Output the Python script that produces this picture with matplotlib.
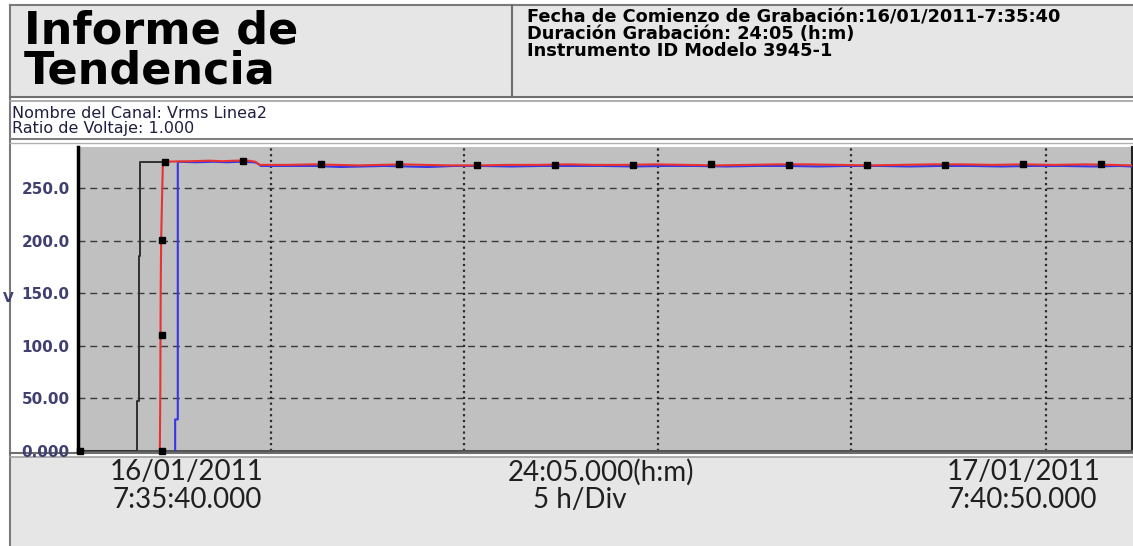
import matplotlib
matplotlib.use("Agg")
import matplotlib.pyplot as plt
from matplotlib.patches import Rectangle

# --- data (time in hours from start of recording, value in V) ---
black_t = [0.0, 1.35, 1.35, 1.39, 1.39, 1.42, 1.42, 1.95]
black_v = [0, 0, 48, 48, 185, 185, 275, 275]

red_t = [1.87, 1.88, 1.89, 1.90, 1.92, 1.94, 2.6, 3.0, 3.3, 3.6, 3.9, 4.05, 4.15,
         4.8, 5.4, 5.9, 6.4, 6.9, 7.4, 7.9, 8.5, 9.2, 9.8, 10.5, 11.2, 11.8,
         12.5, 13.2, 13.9, 14.6, 15.3, 16.0, 16.7, 17.4, 18.1, 18.8, 19.5,
         20.2, 20.9, 21.6, 22.3, 23.0, 23.6, 24.08]
red_v = [0, 55, 155, 200, 240, 275, 275.5, 276, 275.5, 276, 276, 275, 272,
         272, 272.5, 272, 271.5, 272, 272.5, 272, 271.5, 271.5, 272, 272, 272.5, 272,
         272, 272.5, 272, 271.5, 272, 272.5, 272.5, 272, 271.5, 272, 272.5,
         272.5, 272, 272.5, 272, 272.5, 272, 271.5]

blue_t = [2.22, 2.22, 2.28, 2.28, 2.7, 3.1, 3.4, 3.7, 4.0, 4.08, 4.18,
          4.8, 5.4, 6.0, 6.5, 7.0, 7.5, 8.0, 8.6, 9.2, 9.9, 10.6, 11.3, 12.0,
          12.7, 13.4, 14.1, 14.8, 15.5, 16.2, 16.9, 17.6, 18.3, 19.0, 19.7,
          20.4, 21.1, 21.8, 22.5, 23.2, 23.8, 24.08]
blue_v = [0, 30, 30, 275, 274.5, 275, 274.5, 275, 274.5, 274, 271,
          271, 271, 270, 270.5, 271, 270.5, 270, 271, 271, 270.5, 271, 271, 271,
          270.5, 271, 271, 270.5, 271, 271, 270.5, 271, 271, 270.5, 271,
          271, 270.5, 271, 271, 270.5, 271, 270.5]

mark_t = [0.05, 1.92, 1.92, 1.92, 1.99, 3.77, 5.55, 7.33, 9.12, 10.90, 12.68,
          14.46, 16.25, 18.03, 19.81, 21.59, 23.38]
mark_v = [0, 0, 110, 201, 275, 275.5, 272.5, 273, 271.5, 272, 272,
          272.5, 272, 271.5, 272, 272.5, 272.5]

y_ticks = [0, 50, 100, 150, 200, 250]
y_labels = ["0.000", "50.00", "100.0", "150.0", "200.0", "250.0"]
duration_h = 24.083

W, H = 1133, 546
fig = plt.figure(figsize=(W / 100, H / 100), dpi=100)
fig.patch.set_facecolor("white")

# background layer in pixel coordinates
bg = fig.add_axes([0, 0, 1, 1])
bg.set_xlim(0, W)
bg.set_ylim(H, 0)
bg.axis("off")

hdr_gray = "#e6e6e6"
bg.add_patch(Rectangle((10, 5), W - 10, 92, facecolor=hdr_gray, edgecolor="none"))
bg.add_patch(Rectangle((10, 457), W - 10, H - 457, facecolor=hdr_gray, edgecolor="none"))
bg.plot([10, W], [5, 5], color="#7a7a7a", lw=1.5)
bg.plot([10, 10], [5, H], color="#7a7a7a", lw=1.5)
bg.plot([512, 512], [5, 97], color="#6e6e6e", lw=1.5)
bg.plot([10, W], [97, 97], color="#6e6e6e", lw=1.5)
bg.plot([10, W], [101, 101], color="#a0a0a0", lw=1.2)
bg.plot([10, W], [139, 139], color="#808080", lw=1.5)
bg.plot([10, W], [143, 143], color="#b0b0b0", lw=1.0)
bg.plot([10, W], [453, 453], color="#6e6e6e", lw=1.5)
bg.plot([10, W], [457, 457], color="#a0a0a0", lw=1.2)

bg.text(24, 31, "Informe de", fontsize=32, fontweight="bold", family="DejaVu Sans",
        va="center", ha="left", color="black")
bg.text(24, 71, "Tendencia", fontsize=32, fontweight="bold", family="DejaVu Sans",
        va="center", ha="left", color="black")

hdr_lines = ["Fecha de Comienzo de Grabación:16/01/2011-7:35:40",
             "Duración Grabación: 24:05 (h:m)",
             "Instrumento ID Modelo 3945-1"]
for i, s in enumerate(hdr_lines):
    bg.text(527, 17 + i * 17, s, fontsize=12.8, fontweight="bold", family="DejaVu Sans",
            va="center", ha="left", color="black")

bg.text(12, 114, "Nombre del Canal: Vrms Linea2", fontsize=11.5, family="DejaVu Sans",
        va="center", ha="left", color="#1f1f40")
bg.text(12, 129, "Ratio de Voltaje: 1.000", fontsize=11.5, family="DejaVu Sans",
        va="center", ha="left", color="#1f1f40")

bg.text(3, 298, "V", fontsize=10, fontweight="bold", family="DejaVu Sans",
        va="center", ha="left", color="#404070")

foot = "Lato"
fs = 20
bg.text(187, 472, "16/01/2011", fontsize=fs, family=foot, ha="center", va="center", color="#202020")
bg.text(187, 500, "7:35:40.000", fontsize=fs, family=foot, ha="center", va="center", color="#202020")
bg.text(601, 472, "24:05.000(h:m)", fontsize=fs, family=foot, ha="center", va="center", color="#202020")
bg.text(580, 500, "5 h/Div", fontsize=fs, family=foot, ha="center", va="center", color="#202020")
bg.text(1024, 472, "17/01/2011", fontsize=fs, family=foot, ha="center", va="center", color="#202020")
bg.text(1022, 500, "7:40:50.000", fontsize=fs, family=foot, ha="center", va="center", color="#202020")

# --- trend plot ---
x0, x1, y0, y1 = 78, 1132, 147, 451
ax = fig.add_axes([x0 / W, 1 - y1 / H, (x1 - x0) / W, (y1 - y0) / H])
ax.set_facecolor("#c0c0c0")
ax.set_xlim(0, duration_h)
ax.set_ylim(0, 289)

for yv in y_ticks[1:]:
    ax.axhline(yv, color="#3a3a3a", lw=1.0, ls=(0, (5, 3.5)), zorder=1)
for xv in [4.41, 8.82, 13.25, 17.66, 22.12]:
    ax.axvline(xv, color="#2a2a2a", lw=1.6, ls=(0, (1, 1.6)), zorder=1)

ax.plot(black_t, black_v, color="#303030", lw=1.4, zorder=3)
ax.plot(blue_t, blue_v, color="#3535e6", lw=1.5, zorder=4)
ax.plot(red_t, red_v, color="#e83232", lw=1.5, zorder=5)
ax.plot(mark_t, mark_v, ls="none", marker="s", ms=4.2, color="black", zorder=6, clip_on=False)

ax.set_yticks(y_ticks)
ax.set_yticklabels(y_labels)
ax.set_xticks([])
ax.tick_params(axis="y", length=0, pad=6)
for lab in ax.get_yticklabels():
    lab.set_fontfamily("DejaVu Sans")
    lab.set_fontweight("bold")
    lab.set_fontsize(11)
    lab.set_color("#404070")

ax.spines["top"].set_visible(False)
ax.spines["left"].set_color("black")
ax.spines["left"].set_linewidth(2.5)
ax.spines["bottom"].set_color("#555555")
ax.spines["bottom"].set_linewidth(1.5)
ax.spines["right"].set_color("#222222")
ax.spines["right"].set_linewidth(1.5)

fig.savefig("out.png", dpi=100)
